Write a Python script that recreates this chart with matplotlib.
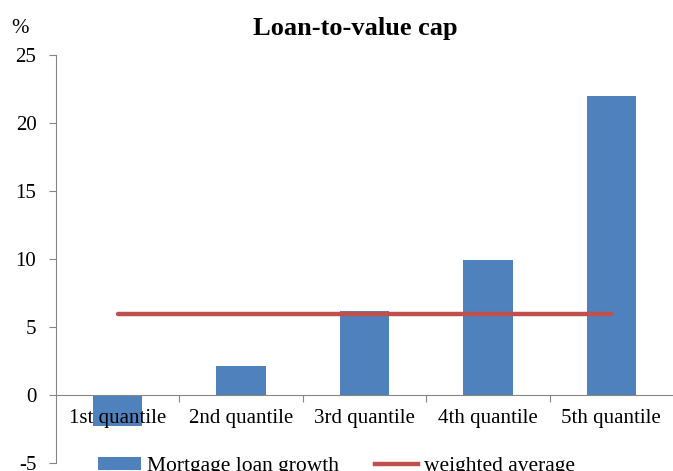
import numpy as np
import matplotlib.pyplot as plt
from matplotlib.lines import Line2D
from matplotlib.patches import Patch

plt.rcParams['font.family'] = ['Liberation Serif', 'DejaVu Serif']
plt.rcParams['axes.unicode_minus'] = False

categories = ["1st quantile", "2nd quantile", "3rd quantile", "4th quantile", "5th quantile"]
loan_growth = [-2.3, 2.1, 6.2, 9.9, 22.0]
weighted_avg = [5.95, 5.95, 5.95, 5.95, 5.95]

bar_color = "#4F81BD"
line_color = "#C0504D"
axis_color = "#868686"

fig = plt.figure(figsize=(6.73, 4.71), dpi=100)
ax = fig.add_axes([0.083, 0.017, 0.917, 0.866])
ax.set_axisbelow(False)

x = np.arange(len(categories))
ax.bar(x, loan_growth, width=0.4, color=bar_color, zorder=2)
ax.plot(x, weighted_avg, color=line_color, linewidth=3.2, solid_capstyle='round', zorder=3)

ax.set_xlim(-0.5, 4.5)
ax.set_ylim(-5, 25)
ax.set_yticks(np.arange(-5, 26, 5))

for s in ['top', 'right']:
    ax.spines[s].set_visible(False)
ax.spines['bottom'].set_position(('data', 0))
ax.spines['bottom'].set_color(axis_color)
ax.spines['left'].set_color(axis_color)
ax.spines['bottom'].set_zorder(4)

ax.set_xticks(np.arange(0.5, 4.5, 1.0))
ax.set_xticklabels([])
ax.tick_params(axis='x', which='major', length=5, color=axis_color, direction='out')
ax.set_xticks(x, minor=True)
ax.set_xticklabels(categories, minor=True, fontsize=15)
ax.tick_params(axis='x', which='minor', length=0, pad=10)
ax.tick_params(axis='y', length=5, color=axis_color, labelsize=15, pad=9)

fig.text(0.528, 0.94, "Loan-to-value cap", ha='center', va='center',
         fontsize=19, fontweight='bold')
fig.text(0.03, 0.94, "%", ha='center', va='center', fontsize=15)

handles = [Patch(facecolor=bar_color), Line2D([0], [0], color=line_color, linewidth=3.2)]
fig.legend(handles, ["Mortgage loan growth", "weighted average"], loc='center',
           bbox_to_anchor=(0.5, 0.01), ncol=2, frameon=False, fontsize=15.5,
           handlelength=2.0, handleheight=0.6, handletextpad=0.25, columnspacing=1.7)

fig.savefig("out.png", dpi=100)
